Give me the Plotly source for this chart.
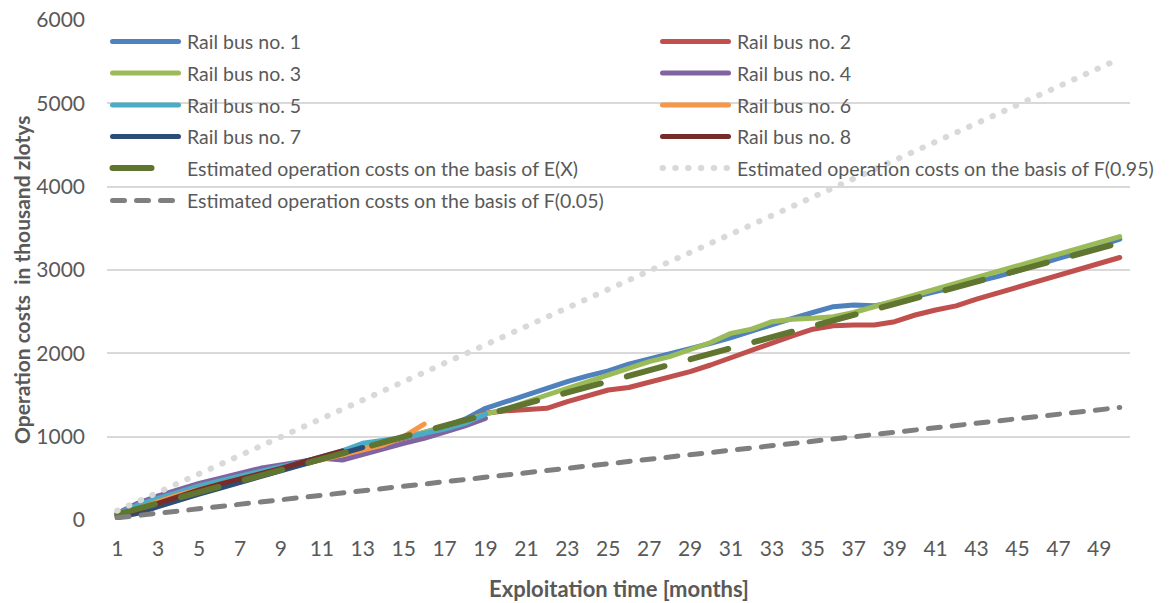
import plotly.graph_objects as go

# ---- data -------------------------------------------------------------
months = list(range(1, 51))

bus1 = [70, 190, 270, 350, 420, 470, 530, 590, 640, 690,
        760, 820, 880, 930, 990, 1050, 1120, 1210, 1340, 1420,
        1500, 1590, 1660, 1730, 1790, 1870, 1930, 1990, 2050, 2120,
        2190, 2270, 2350, 2420, 2490, 2560, 2580, 2570, 2620, 2680,
        2740, 2790, 2850, 2920, 2990, 3070, 3140, 3210, 3290, 3370]
bus2 = [50, 140, 220, 300, 370, 430, 490, 550, 610, 670,
        740, 800, 860, 920, 980, 1040, 1110, 1190, 1280, 1310,
        1320, 1340, 1420, 1490, 1560, 1590, 1650, 1720, 1780, 1860,
        1950, 2030, 2120, 2210, 2290, 2330, 2340, 2340, 2380, 2460,
        2520, 2570, 2650, 2720, 2790, 2860, 2930, 3000, 3080, 3150]
bus3 = [60, 150, 240, 320, 390, 450, 510, 570, 630, 680,
        750, 810, 870, 930, 990, 1050, 1120, 1200, 1270, 1330,
        1420, 1500, 1580, 1660, 1740, 1820, 1900, 1960, 2040, 2130,
        2240, 2290, 2380, 2410, 2420, 2440, 2490, 2560, 2630, 2700,
        2770, 2830, 2900, 2970, 3040, 3110, 3180, 3250, 3320, 3400]
bus4 = [80, 200, 290, 370, 440, 500, 560, 620, 660, 700,
        740, 720, 790, 860, 920, 980, 1050, 1130, 1220]
bus5 = [70, 180, 260, 340, 410, 470, 530, 580, 640, 690,
        760, 830, 920, 950, 990, 1040, 1090, 1160, 1270]
bus6 = [50, 140, 220, 300, 370, 430, 490, 550, 600, 660,
        720, 780, 840, 900, 1000, 1150]
bus7 = [30, 80, 160, 240, 310, 380, 450, 520, 580, 650,
        720, 790, 870]
bus8 = [40, 120, 210, 290, 360, 430, 490, 560, 620, 690,
        760, 830]

est_ex = [67, 133, 200, 266, 333, 399, 466, 532, 599, 665,
          732, 798, 865, 931, 998, 1064, 1131, 1197, 1264, 1330,
          1397, 1463, 1530, 1596, 1663, 1729, 1796, 1862, 1929, 1995,
          2062, 2128, 2195, 2261, 2328, 2394, 2461, 2527, 2594, 2660,
          2727, 2793, 2860, 2926, 2993, 3059, 3126, 3192, 3259, 3325]
est_f95 = [111, 221, 332, 443, 554, 664, 775, 886, 996, 1107,
           1218, 1328, 1439, 1550, 1661, 1771, 1882, 1993, 2103, 2214,
           2325, 2435, 2546, 2657, 2768, 2878, 2989, 3100, 3210, 3321,
           3432, 3542, 3653, 3764, 3875, 3985, 4096, 4207, 4317, 4428,
           4539, 4649, 4760, 4871, 4982, 5092, 5203, 5314, 5424, 5535]
est_f05 = [27, 54, 81, 108, 135, 162, 189, 216, 243, 270,
           297, 324, 351, 378, 405, 432, 459, 486, 513, 540,
           567, 594, 621, 648, 675, 702, 729, 756, 783, 810,
           837, 864, 891, 918, 945, 972, 999, 1026, 1053, 1080,
           1107, 1134, 1161, 1188, 1215, 1242, 1269, 1296, 1323, 1350]

x_ticks = list(range(1, 50, 2))
y_ticks = [0, 1000, 2000, 3000, 4000, 5000, 6000]

# ---- styling ------------------------------------------------------------
FONT = "Lato"
TXT = "#595959"
GRID = "#D9D9D9"

series = [
    ("Rail bus no. 1", bus1, "#4F81BD", "solid", 5),
    ("Rail bus no. 2", bus2, "#C0504D", "solid", 5),
    ("Rail bus no. 3", bus3, "#9BBB59", "solid", 5),
    ("Rail bus no. 4", bus4, "#8064A2", "solid", 5),
    ("Rail bus no. 5", bus5, "#4BACC6", "solid", 5),
    ("Rail bus no. 6", bus6, "#F79646", "solid", 5),
    ("Rail bus no. 7", bus7, "#2C4D75", "solid", 5),
    ("Rail bus no. 8", bus8, "#772C2A", "solid", 5),
    ("Estimated operation costs on the basis of E(X)", est_ex, "#5F7530", "39px,27px", 6),
    ("Estimated operation costs on the basis of F(0.95)", est_f95, "#D9D9D9", "0.5px,12.3px", 6),
    ("Estimated operation costs on the basis of F(0.05)", est_f05, "#7F7F7F", "12px,12px", 5),
]

# plot area in pixels
W, H = 1172, 603
PL, PR, PT, PB = 107, 1130, 20, 520


def px(xp):
    return (xp - PL) / (PR - PL)


def py(yp):
    return (PB - yp) / (PB - PT)


fig = go.Figure()
for name, vals, color, dash, width in series:
    fig.add_trace(go.Scatter(
        x=months[:len(vals)], y=vals, mode="lines", name=name,
        line=dict(color=color, width=width, dash=dash),
        showlegend=False, hoverinfo="skip",
    ))

# ---- legend (two columns) ----------------------------------------------
shapes = []
annotations = []
row_y = [41.5, 73, 105, 136.5, 168, 200.5]
col_x = [110, 660]
for i, (name, vals, color, dash, width) in enumerate(series):
    r, c = divmod(i, 2)
    x0 = col_x[c]
    yy = row_y[r]
    shapes.append(dict(
        type="line", xref="paper", yref="paper",
        x0=px(x0 + 2.5), x1=px(x0 + 68.5), y0=py(yy), y1=py(yy),
        line=dict(color=color, width=width, dash=dash),
    ))
    annotations.append(dict(
        text=name, xref="paper", yref="paper",
        x=px(x0 + 75), y=py(yy), xanchor="left", yanchor="middle",
        showarrow=False, font=dict(family=FONT, size=19.5, color=TXT),
    ))

# axis titles
annotations.append(dict(
    text="<b>Exploitation time [months]</b>", xref="paper", yref="paper",
    x=px(619), y=py(588), xanchor="center", yanchor="middle",
    showarrow=False, font=dict(family=FONT, size=22, color=TXT),
))
annotations.append(dict(
    text="<b>Operation costs  in thousand zlotys</b>", xref="paper", yref="paper",
    x=px(21), y=py(280), xanchor="center", yanchor="middle", textangle=-90,
    showarrow=False, font=dict(family=FONT, size=21, color=TXT),
))

fig.update_layout(
    width=W, height=H,
    margin=dict(l=PL, r=W - PR, t=PT, b=H - PB, autoexpand=False),
    paper_bgcolor="white", plot_bgcolor="white",
    shapes=shapes, annotations=annotations,
    showlegend=False,
    font=dict(family=FONT, color=TXT, size=20),
)
fig.update_xaxes(
    range=[0.5, 50.5], tickvals=x_ticks, ticktext=[str(t) for t in x_ticks],
    showgrid=False, zeroline=False, showline=False, ticks="", automargin=False,
    ticklabelstandoff=14, tickfont=dict(family=FONT, size=21, color=TXT),
)
fig.update_yaxes(
    range=[0, 6000], tickvals=y_ticks, showgrid=True, gridcolor=GRID, gridwidth=1.5,
    zeroline=False, showline=False, ticks="", automargin=False,
    ticklabelstandoff=21, tickfont=dict(family=FONT, size=21, color=TXT),
)

# round line caps and joins, as in the original spreadsheet styling
post = """
var gd = document.getElementById('{plot_id}');
gd.querySelectorAll('.scatterlayer path.js-line, .shapelayer path').forEach(function(p){
  p.style.strokeLinecap = 'round';
  p.style.strokeLinejoin = 'round';
});
"""

fig.write_html("out.html", post_script=post)
